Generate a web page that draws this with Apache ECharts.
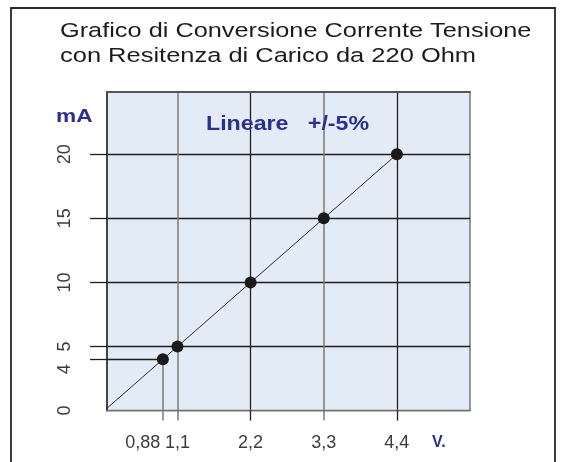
<!DOCTYPE html>
<html>
<head>
<meta charset="utf-8">
<script src="https://cdn.jsdelivr.net/npm/echarts@6/dist/echarts.min.js"></script>
<style>
  html, body { margin: 0; padding: 0; background: #ffffff; }
  #chart { width: 566px; height: 462px; }
</style>
</head>
<body>
<div id="chart"></div>
<script>
// ---- data ----
const titleLine1 = 'Grafico di Conversione Corrente Tensione';
const titleLine2 = 'con Resitenza di Carico da 220 Ohm';
const noteText = 'Lineare   +/-5%';
const yUnit = 'mA';
const xUnit = 'V.';

const voltage = [0, 0.88, 1.1, 2.2, 3.3, 4.4];   // V
const current = [0, 4, 5, 10, 15, 20];           // mA

const xTickValues = [0.88, 1.1, 2.2, 3.3, 4.4];
const xTickLabels = ['0,88', '1,1', '2,2', '3,3', '4,4'];
const yTickValues = [0, 4, 5, 10, 15, 20];
const yTickLabels = ['0', '4', '5', '10', '15', '20'];

const xGreyLines = [1.1, 3.3];
const xBlackLines = [2.2, 4.4];
const yGridLines = [5, 10, 15, 20];

// ---- styling ----
const FONT = '"Liberation Sans", Arial, Helvetica, sans-serif';
const BLUE = '#2b2f8f';
const BLACK_LINE = '#1e1e1e';
const GREY_LINE = '#7a7a7a';
const LABEL_COLOR = '#3c3c3c';
const X_MIN = 0.04, X_MAX = 5.5, Y_MIN = 0, Y_MAX = 24.86;

const chart = echarts.init(document.getElementById('chart'), null, { renderer: 'canvas' });

function xLabel(v) {
  const i = xTickValues.findIndex(t => Math.abs(t - v) < 1e-9);
  if (i < 0) return '';
  return i === 0 ? '{shift|' + xTickLabels[i] + '}' : xTickLabels[i];
}
function yLabel(v) {
  const i = yTickValues.findIndex(t => Math.abs(t - v) < 1e-9);
  if (i < 0) return '';
  return i === 1 ? '{shift|' + yTickLabels[i] + '}' : yTickLabels[i];
}

const baseX = { type: 'value', gridIndex: 0, min: X_MIN, max: X_MAX, position: 'bottom',
  axisLine: { show: false, onZero: false }, axisTick: { show: false }, axisLabel: { show: false },
  splitLine: { show: false } };
const baseY = { type: 'value', gridIndex: 0, min: Y_MIN, max: Y_MAX, position: 'left',
  axisLine: { show: false, onZero: false }, axisTick: { show: false }, axisLabel: { show: false },
  splitLine: { show: false } };

const option = {
  animation: false,
  backgroundColor: '#ffffff',
  grid: { left: 107, top: 92, width: 363, height: 318.6, show: true,
          backgroundColor: '#e2ebf6', borderColor: '#6e6e6e', borderWidth: 1.4 },
  xAxis: [
    // grey full grid lines + all tick labels + bottom border
    Object.assign({}, baseX, {
      axisLine: { show: true, onZero: false, lineStyle: { color: '#6e6e6e', width: 1.4 } },
      axisTick: { show: true, inside: false, length: 10, customValues: xGreyLines,
                  lineStyle: { color: GREY_LINE, width: 1.5 } },
      splitLine: { show: true, lineStyle: { color: GREY_LINE, width: 1.5 } },
      axisLabel: { show: true, customValues: xTickValues, formatter: xLabel, margin: 23,
                   fontFamily: FONT, fontSize: 18, color: LABEL_COLOR,
                   rich: { shift: { fontFamily: FONT, fontSize: 18, color: LABEL_COLOR, padding: [0, 40, 0, 0] } } }
    }),
    // black full grid lines
    Object.assign({}, baseX, {
      axisTick: { show: true, inside: false, length: 10, customValues: xBlackLines,
                  lineStyle: { color: BLACK_LINE, width: 1.3 } },
      splitLine: { show: true, lineStyle: { color: BLACK_LINE, width: 1.3 } }
    }),
    // tick continuing the 0,88 drop line
    Object.assign({}, baseX, {
      axisTick: { show: true, inside: false, length: 10, customValues: [xTickValues[0]],
                  lineStyle: { color: GREY_LINE, width: 1.5 } }
    }),
    // top border
    Object.assign({}, baseX, { position: 'top',
      axisLine: { show: true, onZero: false, lineStyle: { color: '#555555', width: 2 } } })
  ],
  yAxis: [
    Object.assign({}, baseY, {
      axisLine: { show: true, onZero: false, lineStyle: { color: '#444444', width: 2 } },
      axisTick: { show: true, inside: false, length: 17, customValues: yGridLines,
                  lineStyle: { color: BLACK_LINE, width: 1.3 } },
      splitLine: { show: true, lineStyle: { color: BLACK_LINE, width: 1.3 } },
      axisLabel: { show: true, customValues: yTickValues, formatter: yLabel, rotate: 90, margin: 33,
                   fontFamily: FONT, fontSize: 18, color: LABEL_COLOR,
                   rich: { shift: { fontFamily: FONT, fontSize: 18, color: LABEL_COLOR, padding: [0, 20, 0, 0] } } }
    }),
    // tick continuing the 4 mA drop line
    Object.assign({}, baseY, {
      axisTick: { show: true, inside: false, length: 17, customValues: [yTickValues[1]],
                  lineStyle: { color: BLACK_LINE, width: 1.3 } }
    })
  ],
  series: [{
    type: 'line',
    xAxisIndex: 0, yAxisIndex: 0,
    clip: false,
    data: voltage.map((v, i) => ({
      value: [v, current[i]],
      symbolSize: current[i] === 0 ? 0 : 12
    })),
    symbol: 'circle',
    itemStyle: { color: '#1a1a1a' },
    lineStyle: { color: '#2a2a2a', width: 1 },
    emphasis: { disabled: true },
    markLine: {
      silent: true, symbol: ['none', 'none'], label: { show: false }, animation: false,
      data: [
        [{ coord: [X_MIN, current[1]], lineStyle: { color: BLACK_LINE, width: 1.3, type: 'solid' } },
         { coord: [voltage[1], current[1]] }],
        [{ coord: [voltage[1], current[1]], lineStyle: { color: GREY_LINE, width: 1.5, type: 'solid' } },
         { coord: [voltage[1], Y_MIN] }]
      ]
    },
    z: 5
  }],
  graphic: [
    { type: 'rect', silent: true, shape: { x: 11, y: 8, width: 544, height: 480 },
      style: { fill: 'none', stroke: '#262626', lineWidth: 1.8 } },
    { type: 'text', x: 60, y: 31.5, scaleX: 1.235,
      style: { text: titleLine1, font: '20.5px ' + FONT, fill: '#1c1c1c', align: 'left', verticalAlign: 'middle' } },
    { type: 'text', x: 60, y: 56.5, scaleX: 1.242,
      style: { text: titleLine2, font: '20.5px ' + FONT, fill: '#1c1c1c', align: 'left', verticalAlign: 'middle' } },
    { type: 'text', x: 56, y: 116.8, scaleX: 1.26, z: 10,
      style: { text: yUnit, font: 'bold 18px ' + FONT, fill: BLUE, align: 'left', verticalAlign: 'middle' } },
    { type: 'text', x: 206, y: 124.8, scaleX: 1.16, z: 10,
      style: { text: noteText, font: 'bold 20px ' + FONT, fill: BLUE, align: 'left', verticalAlign: 'middle' } },
    { type: 'text', x: 432, y: 442.5, z: 10,
      style: { text: xUnit, font: 'bold 16px ' + FONT, fill: BLUE, align: 'left', verticalAlign: 'middle' } }
  ]
};

chart.setOption(option);
</script>
</body>
</html>
